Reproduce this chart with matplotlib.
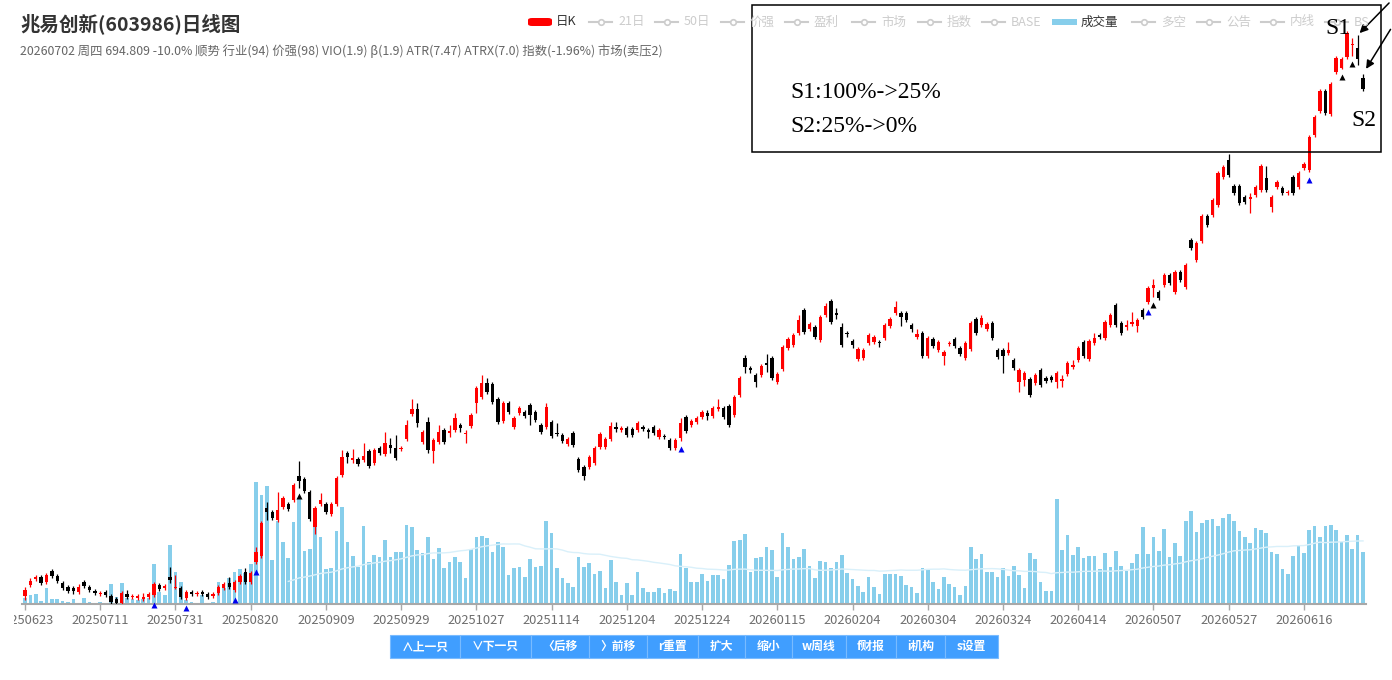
import numpy as np
import pandas as pd
import matplotlib
matplotlib.use('Agg')
import matplotlib.pyplot as plt
from matplotlib.patches import Rectangle, FancyBboxPatch
from matplotlib.lines import Line2D
from matplotlib.transforms import Bbox

plt.rcParams['font.family'] = ['Noto Sans CJK SC', 'DejaVu Sans']

# 日K数据 (20250623 - 20260702)
open_ = [117.8, 122.5, 125.0, 125.9, 123.7, 128.5, 126.3, 123.3, 121.6, 121.2,
         119.5, 123.7, 121.6, 119.9, 118.7, 119.5, 117.8, 116.6, 115.0, 118.7,
         117.4, 117.0, 116.6, 117.4, 118.3, 122.5, 121.2, 125.9, 121.2, 121.2,
         117.0, 119.5, 118.7, 119.5, 118.7, 117.8, 119.1, 121.2, 123.3, 120.3,
         123.7, 128.1, 123.7, 132.7, 135.5, 160.3, 158.1, 153.7, 160.9, 162.6,
         164.9, 179.3, 177.4, 169.5, 150.0, 162.6, 162.6, 157.0, 162.6, 179.9,
         194.4, 189.6, 190.3, 189.6, 195.7, 187.7, 197.8, 193.7, 199.9, 197.8,
         197.1, 204.1, 222.8, 226.7, 202.0, 216.6, 195.7, 202.0, 210.6, 208.4,
         210.6, 214.3, 207.7, 213.6, 231.5, 236.4, 248.3, 247.4, 234.7, 217.3,
         231.5, 212.8, 223.5, 224.3, 229.9, 224.3, 214.3, 212.8, 216.6, 208.4,
         206.9, 200.6, 208.4, 190.3, 185.0, 185.0, 187.7, 198.5, 198.5, 204.1,
         212.8, 210.6, 212.1, 211.3, 210.6, 212.8, 210.6, 212.8, 205.5, 206.2,
         203.4, 197.8, 204.8, 220.4, 214.3, 216.6, 220.4, 223.5, 221.2, 226.7,
         227.5, 229.1, 222.0, 238.1, 271.0, 261.7, 255.4, 255.4, 266.3, 271.0,
         249.1, 260.8, 280.6, 283.6, 295.7, 320.6, 300.0, 302.1, 288.6, 315.1,
         330.9, 317.3, 302.1, 295.7, 287.6, 270.0, 271.0, 285.6, 286.6, 286.6,
         290.6, 303.1, 317.3, 317.3, 317.3, 304.2, 291.6, 295.7, 272.8, 289.6,
         278.7, 272.8, 284.6, 289.6, 280.6, 271.0, 279.7, 310.7, 304.2, 300.0,
         306.3, 278.7, 278.7, 275.8, 269.1, 249.1, 250.9, 251.8, 248.3, 259.9,
         252.7, 253.6, 249.1, 250.0, 256.3, 262.6, 269.1, 286.6, 270.0, 285.6,
         293.6, 290.6, 304.2, 326.3, 306.3, 302.1, 305.3, 303.1, 320.6, 329.7,
         346.2, 341.4, 349.7, 362.4, 341.4, 366.2, 347.4, 409.6, 381.9, 408.2,
         445.5, 447.1, 463.0, 510.7, 541.9, 494.8, 494.8, 476.1, 472.8, 479.5,
         487.9, 508.9, 459.8, 493.1, 491.4, 482.9, 510.7, 493.1, 527.0, 523.3,
         591.4, 643.2, 690.0, 636.7, 737.4, 748.0, 777.1, 810.6, 802.1, 722.1]
close = [120.3, 124.2, 125.9, 123.3, 126.8, 126.3, 124.2, 121.2, 119.9, 119.9,
         121.6, 122.0, 120.3, 119.1, 119.1, 118.3, 115.4, 115.0, 119.1, 117.4,
         117.8, 117.8, 117.4, 118.7, 122.9, 120.7, 122.0, 124.6, 121.6, 117.4,
         119.5, 118.7, 119.1, 118.7, 117.4, 118.7, 121.6, 122.9, 121.6, 123.7,
         126.3, 123.7, 127.6, 137.4, 152.1, 158.1, 154.8, 159.2, 166.1, 159.8,
         173.8, 176.2, 170.1, 154.2, 160.3, 164.9, 158.1, 162.6, 178.0, 191.6,
         191.6, 190.9, 187.0, 192.3, 185.7, 196.4, 194.4, 201.3, 197.8, 190.9,
         197.8, 214.3, 226.7, 215.8, 209.1, 196.4, 203.4, 209.1, 202.0, 209.9,
         219.6, 212.1, 208.4, 222.0, 244.0, 248.3, 240.6, 232.3, 216.6, 231.5,
         224.3, 219.6, 227.5, 221.2, 222.0, 218.1, 209.1, 228.3, 206.2, 207.7,
         202.7, 204.1, 199.9, 183.1, 179.3, 191.6, 197.8, 207.7, 204.1, 213.6,
         211.3, 212.1, 206.9, 206.9, 215.8, 211.3, 209.1, 208.4, 210.6, 205.5,
         197.8, 203.4, 215.8, 209.9, 217.3, 219.6, 224.3, 221.2, 227.5, 228.3,
         220.4, 214.3, 236.4, 252.7, 262.6, 259.9, 249.1, 263.5, 264.4, 252.7,
         256.3, 281.6, 289.6, 293.6, 309.6, 296.8, 305.3, 291.6, 312.9, 325.2,
         307.4, 315.1, 283.6, 294.6, 283.6, 279.7, 278.7, 293.6, 291.6, 285.6,
         304.2, 310.7, 324.0, 312.9, 309.6, 300.0, 294.6, 272.8, 290.6, 282.6,
         286.6, 276.8, 285.6, 282.6, 274.7, 285.6, 306.3, 295.7, 311.8, 305.3,
         290.6, 271.9, 272.8, 278.7, 261.7, 259.9, 257.2, 238.1, 255.4, 246.6,
         250.0, 250.9, 257.2, 251.8, 266.3, 264.4, 280.6, 272.8, 287.6, 290.6,
         291.6, 307.4, 315.1, 304.2, 295.7, 304.2, 307.4, 309.6, 312.9, 346.2,
         349.7, 334.3, 362.4, 352.4, 366.2, 356.1, 375.3, 398.3, 405.3, 445.5,
         431.8, 471.1, 517.9, 528.8, 514.3, 482.9, 466.2, 467.8, 476.1, 493.1,
         530.7, 487.9, 476.1, 501.8, 482.9, 484.5, 482.9, 517.9, 534.3, 587.3,
         630.0, 690.0, 638.8, 707.0, 774.4, 771.7, 845.3, 813.4, 771.7, 694.809]
high = [121.6, 125.5, 126.8, 126.8, 127.6, 129.4, 127.2, 124.2, 122.5, 122.0,
        122.9, 124.6, 122.5, 120.7, 119.9, 120.3, 118.7, 117.4, 119.9, 120.3,
        118.7, 118.7, 119.1, 119.5, 123.7, 123.3, 122.9, 130.3, 126.8, 122.0,
        120.3, 120.3, 119.9, 120.3, 119.5, 119.5, 122.5, 123.7, 125.9, 124.6,
        127.2, 129.9, 128.5, 139.9, 153.2, 163.7, 159.2, 169.5, 167.2, 163.7,
        175.0, 188.9, 178.7, 170.7, 161.5, 168.9, 163.7, 163.7, 179.3, 196.4,
        195.7, 197.1, 191.6, 201.3, 197.1, 197.8, 199.2, 209.1, 204.8, 206.9,
        199.2, 218.1, 234.7, 231.5, 210.6, 220.4, 204.8, 214.3, 212.1, 214.3,
        223.5, 215.8, 210.6, 223.5, 245.7, 255.4, 252.7, 249.1, 236.4, 233.1,
        233.1, 221.2, 229.1, 225.9, 231.5, 225.9, 215.8, 231.5, 218.1, 215.8,
        208.4, 205.5, 209.9, 191.6, 186.4, 193.0, 199.2, 209.1, 205.5, 216.6,
        216.6, 213.6, 213.6, 212.8, 217.3, 214.3, 212.1, 214.3, 212.1, 207.7,
        204.8, 204.8, 219.6, 222.0, 218.8, 221.2, 225.9, 225.9, 229.1, 234.7,
        229.1, 230.7, 238.1, 254.5, 273.8, 263.5, 257.2, 265.4, 274.7, 272.8,
        258.1, 283.6, 291.6, 295.7, 315.1, 322.8, 307.4, 304.2, 315.1, 328.6,
        333.2, 322.8, 306.3, 297.9, 289.6, 281.6, 280.6, 295.7, 293.6, 288.6,
        306.3, 312.9, 330.9, 319.5, 319.5, 306.3, 300.0, 297.9, 292.6, 291.6,
        288.6, 278.7, 287.6, 291.6, 282.6, 287.6, 308.5, 312.9, 315.1, 307.4,
        308.5, 280.6, 280.6, 286.6, 271.0, 261.7, 259.0, 253.6, 257.2, 261.7,
        254.5, 255.4, 259.0, 255.4, 268.2, 269.1, 282.6, 288.6, 289.6, 295.7,
        295.7, 309.6, 317.3, 328.6, 308.5, 309.6, 318.4, 311.8, 322.8, 348.6,
        357.4, 343.8, 364.9, 364.9, 368.8, 368.8, 378.0, 412.5, 408.2, 448.6,
        448.6, 474.4, 521.5, 532.5, 553.4, 498.3, 498.3, 479.5, 482.9, 496.6,
        534.3, 530.7, 479.5, 505.3, 494.8, 487.9, 514.3, 521.5, 538.1, 591.4,
        634.5, 694.8, 694.8, 712.0, 779.8, 777.1, 851.2, 830.7, 839.4, 732.3]
low = [116.2, 121.6, 124.2, 122.5, 122.9, 125.5, 123.3, 120.3, 119.1, 118.7,
       118.7, 121.2, 119.5, 118.3, 117.8, 117.4, 114.6, 114.2, 114.6, 116.6,
       116.6, 116.2, 115.8, 116.6, 117.4, 119.9, 120.3, 123.3, 120.7, 116.6,
       116.2, 117.8, 117.8, 117.8, 116.6, 117.0, 118.3, 120.3, 120.7, 119.5,
       122.9, 122.9, 122.9, 131.8, 134.5, 153.7, 153.7, 152.6, 159.8, 158.6,
       163.7, 171.9, 168.9, 153.2, 146.3, 161.5, 157.0, 155.9, 161.5, 178.7,
       187.7, 187.7, 185.7, 188.3, 184.4, 186.4, 193.0, 192.3, 194.4, 189.6,
       195.7, 202.7, 221.2, 212.8, 200.6, 194.4, 187.7, 200.6, 200.6, 205.5,
       209.1, 209.1, 201.3, 212.1, 223.5, 234.7, 239.0, 230.7, 215.1, 215.8,
       222.8, 211.3, 222.0, 219.6, 214.3, 216.6, 207.7, 211.3, 204.8, 206.2,
       201.3, 199.2, 198.5, 181.8, 176.8, 183.7, 186.4, 197.1, 197.1, 202.7,
       209.1, 209.1, 205.5, 205.5, 209.1, 209.9, 204.8, 206.9, 204.1, 204.1,
       196.4, 196.4, 202.7, 208.4, 212.8, 215.1, 218.8, 218.1, 219.6, 225.1,
       218.8, 212.8, 220.4, 236.4, 257.2, 257.2, 244.9, 253.6, 258.1, 250.9,
       247.4, 259.0, 278.7, 281.6, 293.6, 294.6, 297.9, 289.6, 286.6, 312.9,
       305.3, 310.7, 281.6, 291.6, 280.6, 268.2, 269.1, 283.6, 284.6, 281.6,
       288.6, 301.0, 315.1, 303.1, 307.4, 296.8, 289.6, 271.0, 271.0, 280.6,
       276.8, 264.4, 282.6, 280.6, 272.8, 269.1, 277.7, 293.6, 302.1, 297.9,
       288.6, 270.0, 257.2, 273.8, 259.9, 240.6, 245.7, 236.4, 246.6, 244.9,
       248.3, 249.1, 244.0, 244.9, 254.5, 260.8, 267.3, 271.0, 268.2, 283.6,
       289.6, 288.6, 302.1, 302.1, 293.6, 298.9, 303.1, 296.8, 310.7, 327.5,
       335.5, 332.0, 347.4, 349.7, 339.0, 353.6, 345.0, 395.5, 379.3, 405.3,
       428.8, 444.0, 459.8, 507.1, 510.7, 479.5, 463.0, 464.6, 450.1, 476.1,
       484.5, 484.5, 451.7, 489.6, 479.5, 479.5, 479.5, 489.6, 523.3, 519.6,
       587.3, 638.8, 634.5, 632.3, 732.3, 745.3, 771.7, 779.8, 755.7, 690.0]
# 成交量(万手)
volume = [6, 9, 10, 3, 16, 5, 5, 3, 2, 5,
          1, 6, 2, 1, 2, 1, 20, 7, 21, 6,
          5, 4, 5, 6, 40, 12, 9, 59, 32, 22,
          4, 2, 1, 9, 1, 2, 22, 16, 26, 32,
          35, 31, 40, 122, 109, 118, 44, 83, 62, 46,
          82, 106, 53, 55, 83, 67, 35, 36, 73, 97,
          62, 48, 37, 78, 42, 49, 47, 64, 47, 52,
          52, 79, 77, 54, 51, 67, 45, 56, 36, 42,
          47, 42, 26, 55, 67, 68, 66, 52, 62, 57,
          29, 36, 37, 27, 45, 37, 38, 83, 71, 36,
          26, 21, 17, 47, 37, 41, 30, 33, 16, 44,
          22, 9, 21, 9, 32, 16, 12, 12, 16, 11,
          15, 13, 50, 36, 22, 22, 30, 23, 29, 29,
          25, 39, 63, 64, 70, 32, 46, 47, 57, 54,
          27, 71, 57, 45, 47, 55, 38, 26, 43, 42,
          36, 42, 49, 31, 25, 18, 12, 27, 17, 10,
          30, 30, 30, 28, 19, 17, 11, 36, 35, 22,
          15, 27, 20, 17, 9, 18, 57, 45, 50, 32,
          32, 27, 36, 28, 38, 29, 16, 51, 45, 22,
          13, 13, 105, 54, 69, 49, 57, 46, 48, 48,
          35, 51, 37, 53, 38, 33, 41, 50, 77, 50,
          67, 53, 75, 47, 61, 48, 83, 93, 72, 81,
          84, 85, 78, 86, 90, 83, 73, 67, 61, 76,
          74, 71, 52, 50, 35, 30, 48, 59, 51, 74,
          78, 67, 78, 79, 74, 62, 69, 55, 69, 52]

tick_labels = ['20250623', '20250711', '20250731', '20250820', '20250909', '20250929',
               '20251027', '20251114', '20251204', '20251224', '20260115', '20260204',
               '20260304', '20260324', '20260414', '20260507', '20260527', '20260616']
buy_idx = [24, 30, 39, 43, 122, 209, 239]
sell_idx = [51, 210, 245, 247]

legend_items = ['日K', '21日', '50日', '价强', '盈利', '市场', '指数', 'BASE', '成交量', '多空', '公告', '内线', 'BS']
buttons = ['∧上一只', '∨下一只', '〈后移', '〉前移', 'r重置', '扩大', '缩小', 'w周线', 'f财报', 'i机构', 's设置']

W, H = 1392, 680
def fx(x):
    return x / W
def fy(y):
    return 1 - y / H

o = np.array(open_)
c = np.array(close)
hi = np.array(high)
lo = np.array(low)
vol = np.array(volume, dtype=float)
n = len(c)
idx = np.arange(n)
up = c >= o
RED = '#ff0000'

fig = plt.figure(figsize=(W / 100, H / 100), dpi=100)
rect = [fx(22.3), fy(604), fx(1365.7) - fx(22.3), fy(20) - fy(604)]
axv = fig.add_axes(rect)
ax = fig.add_axes(rect, sharex=axv)
ax.patch.set_alpha(0)

# 成交量
axv.bar(idx, vol, width=0.68, color='#87ceeb', linewidth=0)
ma50 = pd.Series(vol).rolling(50).mean()
axv.plot(idx, ma50, color='#d9f0fa', lw=1)
axv.set_ylim(0, 584)
axv.set_yticks([])
for s in ['top', 'right', 'left']:
    axv.spines[s].set_visible(False)
axv.spines['bottom'].set_color('#a8a8a8')
axv.spines['bottom'].set_linewidth(1.5)
axv.set_xticks(idx[::14])
axv.set_xticklabels(tick_labels)
axv.tick_params(axis='x', colors='#a8a8a8', length=4, width=1, labelcolor='#6e6e6e',
                labelsize=9.3, pad=3)
# 左侧容器裁切第一个日期
first = axv.get_xticklabels()[0]
first.set_clip_on(True)
first.set_clip_box(Bbox.from_extents(14, 0, W, H))

# K线
colors = np.where(up, RED, '#000000')
ax.vlines(idx, lo, hi, colors=colors, lw=0.9)
ax.bar(idx, np.abs(c - o), bottom=np.minimum(o, c), width=0.62, color=colors, linewidth=0)
ax.plot(np.array(buy_idx), lo[buy_idx] * 0.972, '^', color='#0000ee', ms=4.5, mec='none', clip_on=False)
ax.plot(np.array(sell_idx), lo[sell_idx] * 0.972, '^', color='#000000', ms=4.5, mec='none', clip_on=False)
ax.set_yscale('log')
ax.set_ylim(114.6, 884.9)
ax.set_xlim(-0.5, n - 0.5)
ax.axis('off')

# 标题
fig.text(fx(20), fy(24), '兆易创新(603986)日线图', fontsize=14, fontweight='bold',
         color='#333333', va='center', ha='left')
fig.text(fx(20), fy(51), '20260702 周四 694.809 -10.0% 顺势 行业(94) 价强(98) VIO(1.9) β(1.9) '
         'ATR(7.47) ATRX(7.0) 指数(-1.96%) 市场(卖压2)', fontsize=8.9, color='#666666',
         va='center', ha='left')

# 图例
leg_x = [527, 589, 655, 721, 785, 852, 918, 982, 1052, 1132, 1197, 1261, 1325]
for name, x0 in zip(legend_items, leg_x):
    if name == '日K':
        fig.add_artist(FancyBboxPatch((fx(x0 + 1), fy(26)), fx(24), fy(18) - fy(26),
                                      boxstyle='round,pad=0,rounding_size=0.003',
                                      transform=fig.transFigure, color=RED, lw=0))
        tcolor = '#333333'
    elif name == '成交量':
        fig.add_artist(Rectangle((fx(x0), fy(25)), fx(25), fy(19) - fy(25),
                                 transform=fig.transFigure, color='#87ceeb', lw=0))
        tcolor = '#333333'
    else:
        fig.add_artist(Line2D([fx(x0), fx(x0 + 23)], [fy(22), fy(22)], transform=fig.transFigure,
                              color='#cccccc', lw=1.5))
        fig.add_artist(Line2D([fx(x0 + 11.5)], [fy(22)], transform=fig.transFigure, marker='o',
                              ms=4, mfc='white', mec='#cccccc', mew=1.2))
        tcolor = '#cccccc'
    fig.text(fx(x0 + 29), fy(22), name, fontsize=9, color=tcolor, va='center', ha='left')

# 标注框
fig.add_artist(Rectangle((fx(752), fy(152)), fx(1381) - fx(752), fy(5) - fy(152),
                         transform=fig.transFigure, fill=False, ec='black', lw=1.1))
serif = 'Liberation Serif'
fig.text(fx(790), fy(92), 'S1:100%->25%', family=serif, fontsize=17, va='center', ha='left')
fig.text(fx(790), fy(127), 'S2:25%->0%', family=serif, fontsize=17, va='center', ha='left')
fig.text(fx(1325), fy(28), 'S1', family=serif, fontsize=17, va='center', ha='left')
fig.text(fx(1351), fy(121), 'S2', family=serif, fontsize=17, va='center', ha='left')
ax.annotate('', xy=(248, hi[248]), xycoords='data', xytext=(1391, H - 1), textcoords='figure pixels',
            arrowprops=dict(arrowstyle='-|>', color='black', lw=1.1, mutation_scale=12))
ax.annotate('', xy=(249.3, hi[249] * 1.01), xycoords='data', xytext=(1392, H - 27), textcoords='figure pixels',
            arrowprops=dict(arrowstyle='-|>', color='black', lw=1.1, mutation_scale=12))

# 按钮
edges = [390, 460, 531, 589, 647, 698, 745, 792, 846, 896, 945, 998]
for k, label in enumerate(buttons):
    x0, x1 = edges[k], edges[k + 1]
    fig.add_artist(Rectangle((fx(x0), fy(658)), fx(x1) - fx(x0), fy(635) - fy(658),
                             transform=fig.transFigure, facecolor='#409eff', edgecolor='#79bbff', lw=0.8))
    fig.text(fx((x0 + x1) / 2), fy(646.5), label, fontsize=8.5, color='white', fontweight='bold',
             va='center', ha='center')

fig.savefig('out.png', dpi=100)
